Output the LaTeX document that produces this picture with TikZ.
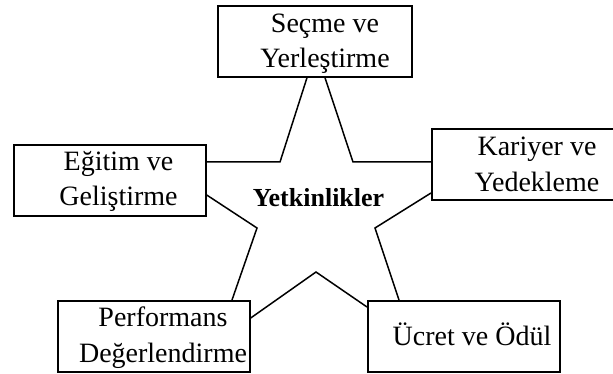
\documentclass[tikz,border=0pt]{standalone}
\usepackage{fontspec}
\setmainfont{Liberation Serif}
\begin{document}
\begin{tikzpicture}[x=1pt,y=-1pt,
  box/.style={draw, line width=1.7pt, minimum width=#1, minimum height=71pt, inner sep=0pt, anchor=north west},
  box/.default=194pt,
  label/.style={align=center, font=\fontsize{28}{35.5}\selectfont, inner sep=0pt},
  outline/.style={line width=1.5pt, line join=miter}]
\useasboundingbox (0,0) rectangle (613,374);
\clip (0,0) rectangle (613,374);

% the five boxes
\node[box=194pt] (sel)  at (217,5)   {};
\node[box=192pt] (edu)  at (13,144)  {};
\node[box=192pt] (perf) at (57,300)  {};
\node[box=192pt] (pay)  at (367,300) {};
\node[box=193pt] (car)  at (431,128) {};

% box texts
\node[label] at (325,43.8)  {Seçme ve\\Yerleştirme};
\node[label] at (118.5,181.3) {Eğitim ve\\Geliştirme};
\node[label] at (163,337.8) {Performans\\Değerlendirme};
\node[label] at (537,164.3) {Kariyer ve\\Yedekleme};
\node[label, anchor=base] at (472,345) {Ücret ve Ödül};

% star outline, its points resting on the boxes
\coordinate (s1) at (sel.south west -| 307,0);
\coordinate (s2) at (sel.south west -| 325,0);
\coordinate (i1) at (353,162);
\coordinate (c1) at (car.north west |- 0,162);
\coordinate (c2) at (car.north west |- 0,193);
\coordinate (i2) at (375,228);
\coordinate (p1) at (pay.north west -| 399,0);
\coordinate (p2) at (pay.north west |- 0,307);
\coordinate (i3) at (316,272);
\coordinate (f1) at (perf.north east |- 0,318);
\coordinate (f2) at (perf.north west -| 232,0);
\coordinate (i4) at (257,228);
\coordinate (e1) at (edu.north east |- 0,195);
\coordinate (e2) at (edu.north east |- 0,162);
\coordinate (i5) at (280,162);

\draw[outline] (s2) -- (i1) -- (c1);
\draw[outline] (c2) -- (i2) -- (p1);
\draw[outline] (p2) -- (i3) -- (f1);
\draw[outline] (f2) -- (i4) -- (e1);
\draw[outline] (e2) -- (i5) -- (s1);

\node[font=\fontsize{26}{30}\selectfont\bfseries, inner sep=0pt, anchor=base] (core) at (318.5,207) {Yetkinlikler};
\end{tikzpicture}
\end{document}
